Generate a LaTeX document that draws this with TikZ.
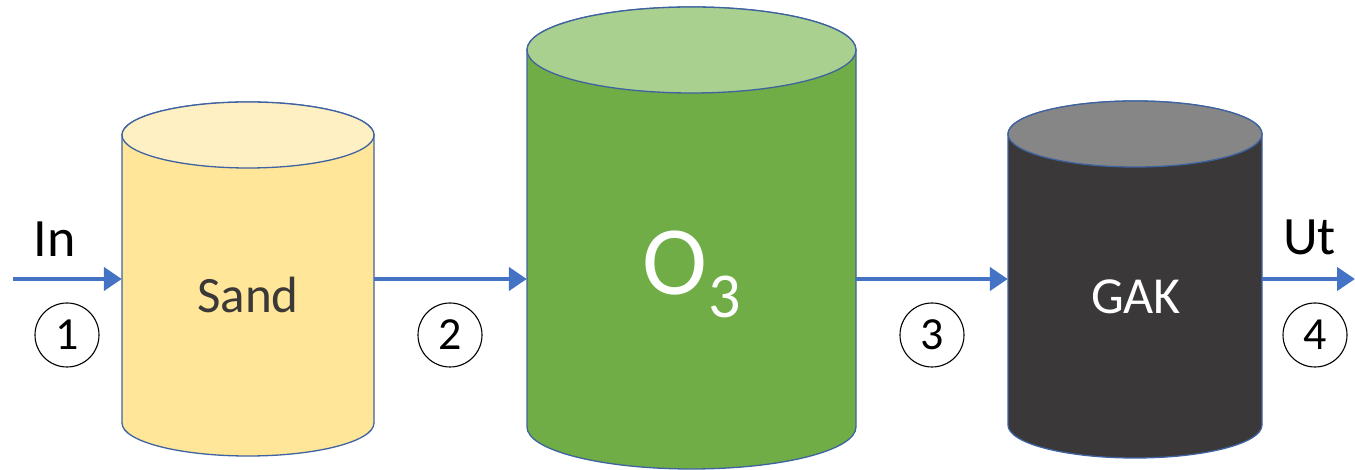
\documentclass[tikz,border=0pt]{standalone}
\usepackage{fontspec}
\setmainfont{Carlito}
\usetikzlibrary{arrows.meta}
\definecolor{outl}{HTML}{3F63A0}
\definecolor{arrblue}{HTML}{4472C4}
\definecolor{sandbody}{HTML}{FFE699}
\definecolor{sandtop}{HTML}{FFF0C4}
\definecolor{ozbody}{HTML}{70AD47}
\definecolor{oztop}{HTML}{A9D08E}
\definecolor{gakbody}{HTML}{3A3838}
\definecolor{gaktop}{HTML}{868686}
\definecolor{sandtext}{HTML}{3B3838}
\begin{document}
\begin{tikzpicture}[x=1pt,y=1pt,
 cyl/.style={draw=outl, line width=1.3pt},
 flow/.style={draw=arrblue, line width=4.6pt, -{Triangle[length=18pt,width=23pt]}},
 num/.style={circle, draw=black, line width=1.1pt, minimum size=64pt, inner sep=0pt, font=\fontsize{46}{46}\selectfont},
 lbl/.style={font=\fontsize{54}{54}\selectfont, anchor=base},
 body/.style={inner sep=0pt, minimum height=10pt}
 ]
\useasboundingbox (0,0) rectangle (1355,470);

% Sand cylinder
\path[cyl, fill=sandbody] (122,335) -- (122,47) arc[start angle=180, end angle=360, x radius=126, y radius=33] -- (374,335) arc[start angle=0, end angle=180, x radius=126, y radius=33] -- cycle;
\path[cyl, fill=sandtop] (248,335) ellipse[x radius=126, y radius=33];
\node[body, minimum width=252pt] (sand) at (248,191) {};
\node[lbl, text=sandtext, font=\fontsize{51}{51}\selectfont] (sandtxt) at (248,157) {Sand};

% O3 cylinder
\path[cyl, fill=ozbody] (527,420) -- (527,43) arc[start angle=180, end angle=360, x radius=164.5, y radius=42] -- (856,420) arc[start angle=0, end angle=180, x radius=164.5, y radius=43] -- cycle;
\path[cyl, fill=oztop] (691.5,420) ellipse[x radius=164.5, y radius=43];
\node[body, minimum width=329pt] (oz) at (691.5,191) {};
\node[anchor=base, text=white, font=\fontsize{98}{98}\selectfont] (oztxt) at (692,175) {O\hspace{1pt}\raisebox{-23pt}{\fontsize{64}{64}\selectfont 3}};

% GAK cylinder
\path[cyl, fill=gakbody] (1008,336) -- (1008,45) arc[start angle=180, end angle=360, x radius=127, y radius=33] -- (1262,336) arc[start angle=0, end angle=180, x radius=127, y radius=33] -- cycle;
\path[cyl, fill=gaktop] (1135,336) ellipse[x radius=127, y radius=33];
\node[body, minimum width=254pt] (gak) at (1135,191) {};
\node[lbl, text=white, font=\fontsize{52}{52}\selectfont] (gaktxt) at (1136,156) {GAK};

% flows
\coordinate (in) at (13,191);
\coordinate (out) at (1355,191);
\draw[flow] (in) -- (sand.west);
\draw[flow] (sand.east) -- (oz.west);
\draw[flow] (oz.east) -- (gak.west);
\draw[flow] (gak.east) -- (out);

% labels
\node[lbl] (inlbl) at (54.5,213) {In};
\node[lbl] (utlbl) at (1309.5,215) {Ut};

% numbers
\node[num] (n1) at (67,135) {1};
\node[num] (n2) at (450,135) {2};
\node[num] (n3) at (932,135) {3};
\node[num] (n4) at (1315,135) {4};
\end{tikzpicture}
\end{document}
